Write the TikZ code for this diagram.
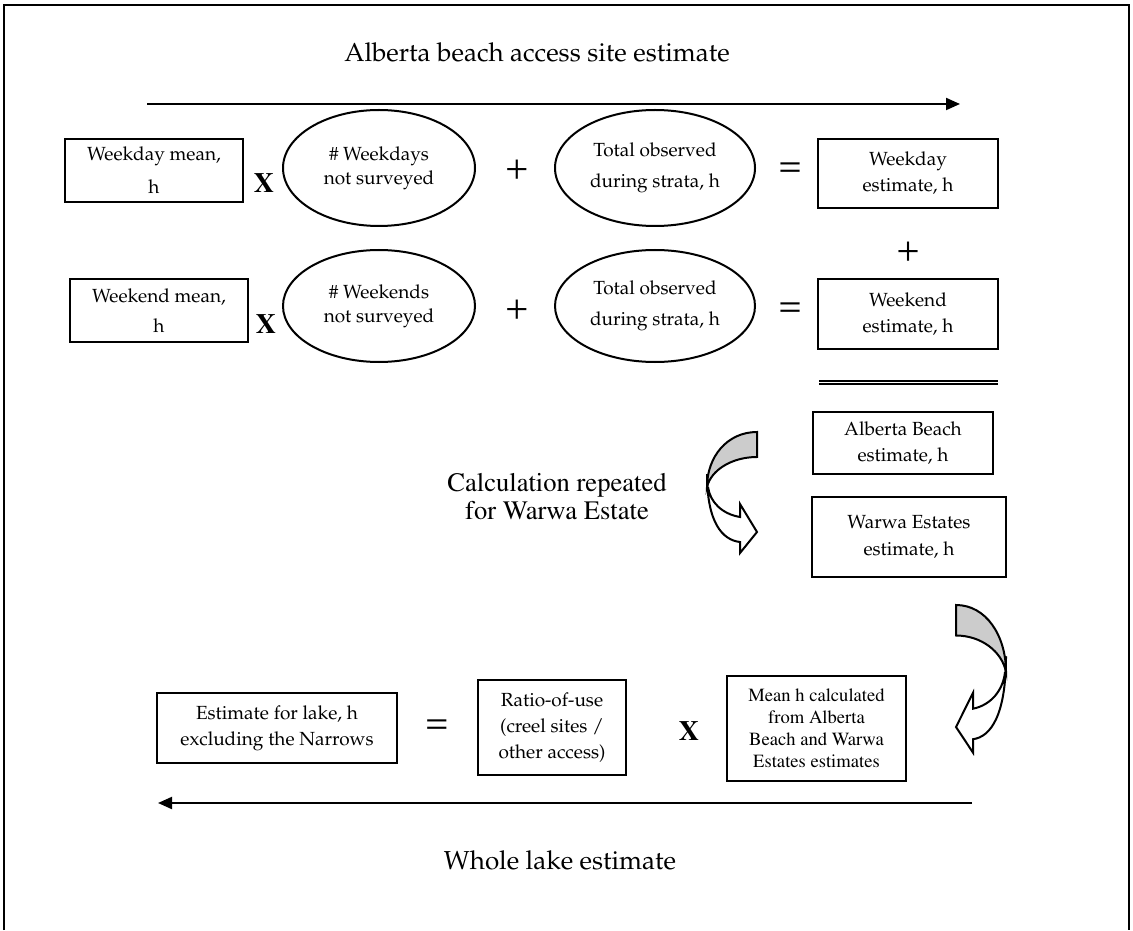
\documentclass[tikz,border=0pt]{standalone}
\usepackage[T1]{fontenc}
\renewcommand{\rmdefault}{ppl}
\usetikzlibrary{shapes,arrows.meta}
\newcommand{\tms}{\fontfamily{ptm}\selectfont}

\begin{document}
\begin{tikzpicture}[x=0.5pt,y=-0.5pt,line width=1pt,
  box/.style={draw, rectangle, inner sep=0pt, align=center, font=\fontsize{9.5}{13}\selectfont},
  oval/.style={draw, ellipse, inner sep=0pt, minimum width=96pt, minimum height=58pt, align=center, font=\fontsize{9.5}{12}\selectfont},
  op/.style={font=\fontsize{19}{19}\selectfont},
  times/.style={font=\tms\bfseries\fontsize{14}{14}\selectfont},
  big/.style={align=center, font=\fontsize{13}{18}\selectfont},
  flow/.style={line width=1pt, -{Triangle[length=7pt,width=6pt]}},
  turnarrow/.pic={
    \filldraw[fill=black!20] (50,0) .. controls (20,0) and (0,25) .. (0,55)
      .. controls (4,38) and (25,25) .. (50,25) -- cycle;
    \filldraw[fill=white] (0,42) .. controls (0,90) and (15,108) .. (33,110) -- (33,121)
      -- (50,100) -- (33,72) -- (33,85) .. controls (15,82) and (3,70) .. (1,55);
  }]
\useasboundingbox (0,0) rectangle (1133,930);
\draw (4,930) -- (4,5) -- (1129,5) -- (1129,930);

% access site estimate
\node[big] (title) at (537,52) {Alberta beach access site estimate};
\coordinate (tl) at (147,104);
\coordinate (tr) at (960,104);
\draw[flow] (tl) -- (tr);

\node[box, minimum width=89pt, minimum height=31.5pt, font=\fontsize{9.5}{16.5}\selectfont] (wdmean) at (154,170.5) {Weekday mean,\\h};
\node[times] (x1) at (264,183) {X};
\node[oval] (wdnot) at (379,168) {\# Weekdays\\not surveyed};
\node[op] (p1) at (517,170) {+};
\node[oval, minimum width=100pt, font=\fontsize{9.5}{15.5}\selectfont] (wdobs) at (655,168) {Total observed\\during strata, h};
\node[op] (e1) at (790,170) {=};
\node[box, minimum width=90pt, minimum height=34.5pt] (wdest) at (908,173.5) {Weekday\\estimate, h};
\node[op] (p2) at (908,252) {+};

\node[box, minimum width=89pt, minimum height=31.5pt, font=\fontsize{9.5}{15}\selectfont] (wemean) at (159,310.5) {Weekend mean,\\h};
\node[times] (x2) at (266,324) {X};
\node[oval, minimum height=56pt] (wenot) at (379,306) {\# Weekends\\not surveyed};
\node[op] (p3) at (517,310) {+};
\node[oval, minimum width=100pt, minimum height=56pt, font=\fontsize{9.5}{15.5}\selectfont] (weobs) at (655,306) {Total observed\\during strata, h};
\node[op] (e2) at (790,310) {=};
\node[box, minimum width=90pt, minimum height=35pt] (weest) at (908,314) {Weekend\\estimate, h};

\coordinate (sl) at (819,382.5);
\coordinate (sr) at (998,382.5);
\draw[line width=0.9pt, double distance=0.8pt] (sl) -- (sr);

\node[box, minimum width=90pt, minimum height=31pt] (abest) at (903,443) {Alberta Beach\\estimate, h};
\node[box, minimum width=97pt, minimum height=40pt, font=\fontsize{9.5}{13.5}\selectfont] (waest) at (909,537) {Warwa Estates\\estimate, h};

\node[big, font=\tms\fontsize{13.3}{14}\selectfont] (repeat) at (557,497) {Calculation repeated\\for Warwa Estate};
\pic at (707,432) {turnarrow};
\pic[xscale=-1, yscale=1.22] at (1006,605) {turnarrow};

% whole lake
\node[box, minimum width=120pt, minimum height=35pt] (lake) at (277,728) {Estimate for lake, h\\excluding the Narrows};
\node[op] (e3) at (437,727) {=};
\node[box, minimum width=74pt, minimum height=47.5pt] (ratio) at (552,727.5) {Ratio-of-use\\(creel sites /\\other access)};
\node[times] (x3) at (689,731) {X};
\node[box, minimum width=89.5pt, minimum height=52.5pt, font=\tms\fontsize{9.3}{11}\selectfont] (meanh) at (816.5,728.5) {Mean h calculated\\from Alberta\\Beach and Warwa\\Estates estimates};

\coordinate (br) at (972,803);
\coordinate (bl) at (158,803);
\draw[flow] (br) -- (bl);
\node[big] (whole) at (560,860) {Whole lake estimate};
\end{tikzpicture}
\end{document}
